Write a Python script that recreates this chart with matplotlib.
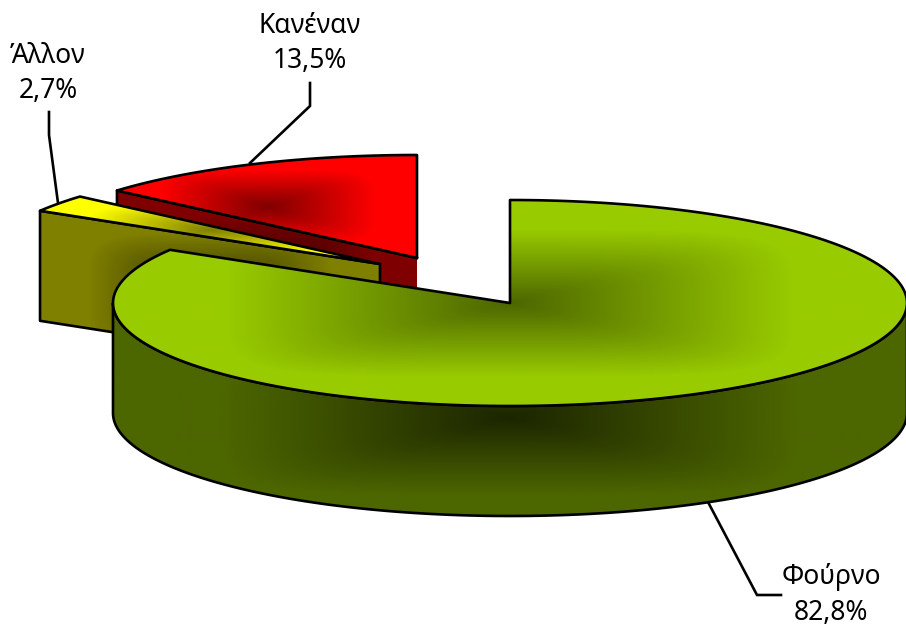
import numpy as np
import matplotlib
matplotlib.use("Agg")
import matplotlib.pyplot as plt
from matplotlib.patches import Polygon

# values (they add up to 99, the pie is normalised)
categories = ["Φούρνο", "Άλλον", "Κανέναν"]
shares = [82.8, 2.7, 13.5]
colors = [(0x99, 0xcc, 0x00), (0xff, 0xff, 0x00), (0xff, 0x00, 0x00)]

# pie geometry in pixels
centers = [(510, 303), (380, 264), (417, 258)]
RX, RY, DEPTH = 397, 103, 110
LW = 1.9

# label anchors (x centre, baseline of first line) and leader lines
label_pos = [(831, 584), (48, 63), (310, 33)]
leaders = [
    [(708, 502), (757, 595), (781, 595)],
    [(49, 112), (49, 135), (58, 203)],
    [(310, 83), (310, 106), (250, 163)],
]

plt.rcParams["font.family"] = ["Noto Sans", "DejaVu Sans"]

fig = plt.figure(figsize=(9.06, 6.26), dpi=100)
ax = fig.add_axes([0, 0, 1, 1])


def rim(center, a0, a1, n=200):
    # angles are degrees clockwise from 12 o'clock
    t = np.radians(np.linspace(a0, a1, n))
    return np.column_stack([center[0] + RX * np.sin(t), center[1] - RY * np.cos(t)])


def gradient_fill(pts, bright, dark, zorder, plateau=0.72, shift_y=0, outline=None):
    # roughly rectangular "from centre" gradient over the bounding box, clipped to pts
    x0, y0 = pts.min(axis=0)
    x1, y1 = pts.max(axis=0)
    xs = np.linspace(x0, x1, 500)
    ys = np.linspace(y0, y1, 500)
    u = (xs - (x0 + x1) / 2) / ((x1 - x0) / 2)
    v = (ys - (y0 + y1) / 2 - shift_y) / ((y1 - y0) / 2)
    uu, vv = np.meshgrid(u, v)
    dist = (np.abs(uu) ** 5 + np.abs(vv) ** 5) ** 0.2
    t = np.clip(dist / plateau, 0, 1)[..., None]
    img = (np.array(dark) + (np.array(bright) - np.array(dark)) * t) / 255
    im = ax.imshow(img, extent=(x0, x1, y1, y0), aspect="auto",
                   interpolation="bilinear", zorder=zorder)
    clip = Polygon(pts, closed=True, transform=ax.transData, fill=False, edgecolor="none")
    ax.add_patch(clip)
    im.set_clip_path(clip)
    if outline is None:
        ax.add_patch(Polygon(pts, closed=True, fill=False, edgecolor="black",
                             linewidth=LW, joinstyle="round", zorder=zorder + 0.5))
    else:
        ax.plot(outline[:, 0], outline[:, 1], color="black", linewidth=LW, zorder=zorder + 0.5)


def draw_slice(i, a0, a1, zorder):
    c = centers[i]
    full = np.array(colors[i], dtype=float)
    half, deep = full / 2, full / 5.5
    arc = rim(c, a0, a1)
    top = np.vstack([[c], arc])
    if a0 > 180:
        # cut face along the starting radius, turned to the viewer
        p = rim(c, a0, a0, 1)[0]
        low = (c[0], c[1] + DEPTH)
        wall = np.array([p, c, low, (p[0], p[1] + DEPTH)])
        # the red slice has no black line down its right side
        outline = np.array([c, p, wall[3], low]) if i == 2 else None
        gradient_fill(wall, half, deep, zorder, outline=outline)
    else:
        # outer rim, front half only
        front = rim(c, 90, min(a1, 270))
        wall = np.vstack([front, front[::-1] + [0, DEPTH]])
        gradient_fill(wall, half, deep, zorder, shift_y=8)
    gradient_fill(top, full, half, zorder + 1)


total = sum(shares)
order = [2, 1, 0]  # back to front
bounds = np.cumsum([0] + shares) / total * 360
for z, i in enumerate(order):
    draw_slice(i, bounds[i], bounds[i + 1], 2 + z * 2)

for line in leaders:
    xs, ys = zip(*line)
    ax.plot(xs, ys, color="black", linewidth=LW, zorder=1,
            solid_joinstyle="miter")

for name, share, (x, y) in zip(categories, shares, label_pos):
    ax.text(x, y, name, ha="center", va="baseline", fontsize=19, color="black")
    ax.text(x, y + 35.5, f"{share:.1f}%".replace(".", ","), ha="center", va="baseline",
            fontsize=19, color="black")

ax.set_xlim(0, 906)
ax.set_ylim(626, 0)
ax.axis("off")
fig.savefig("out.png", dpi=100)
